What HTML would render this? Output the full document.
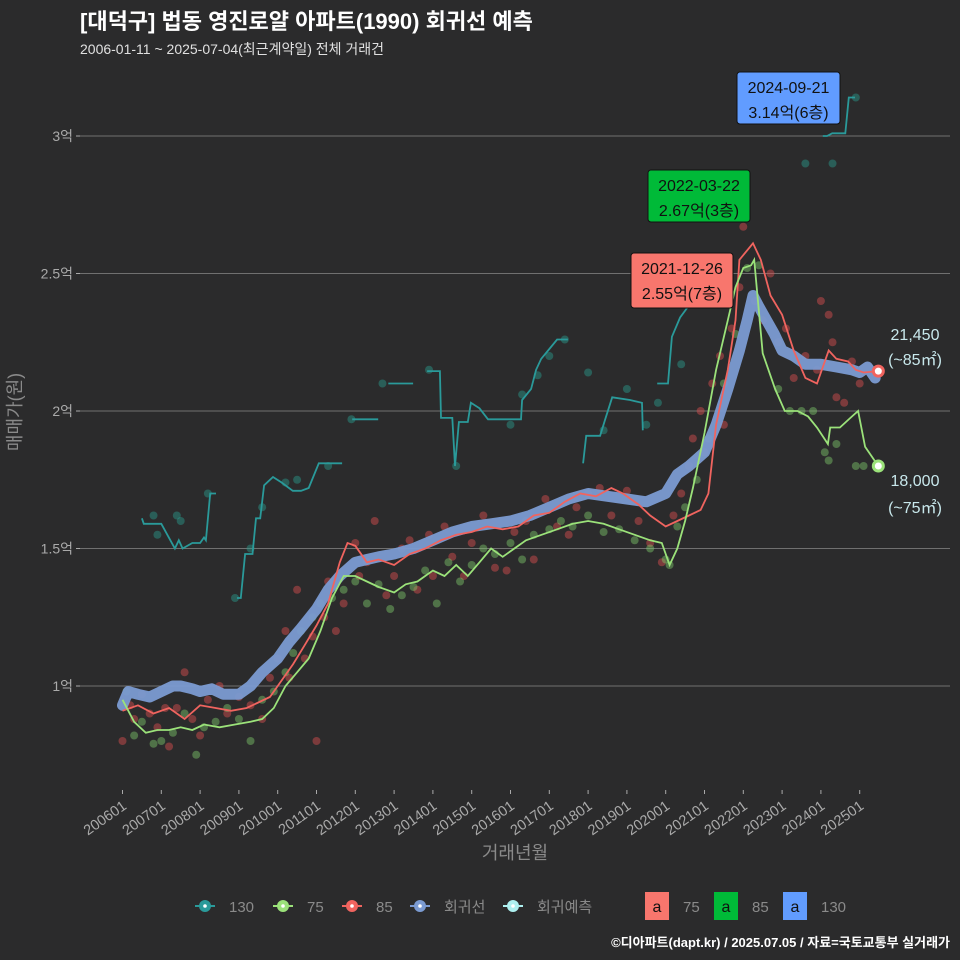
<!DOCTYPE html>
<html><head><meta charset="utf-8">
<style>
html,body{margin:0;padding:0;background:#2b2b2c;}
svg{display:block;font-family:"Liberation Sans","Noto Sans CJK KR",sans-serif;}
</style></head>
<body>
<svg id="chart" width="960" height="960" viewBox="0 0 960 960" xmlns="http://www.w3.org/2000/svg">
<rect x="0" y="0" width="960" height="960" fill="#2b2b2c"/>
<text x="80" y="29" fill="#ffffff" font-size="22" font-weight="bold">[대덕구] 법동 영진로얄 아파트(1990) 회귀선 예측</text>
<text x="80" y="54" fill="#e0e0e0" font-size="14">2006-01-11 ~ 2025-07-04(최근계약일) 전체 거래건</text>
<g id="grid"></g>
<g id="yticks"></g>
<g id="xticks"></g>
<text x="0" y="0" transform="translate(21,412) rotate(-90)" text-anchor="middle" fill="#8a8a8a" font-size="18">매매가(원)</text>
<text x="515" y="859" text-anchor="middle" fill="#8a8a8a" font-size="18">거래년월</text>
<g id="points"></g>
<g id="lines"></g>
<g id="annot"></g>
<g id="legend"></g>
<text x="950" y="947" text-anchor="end" fill="#ffffff" font-size="13" font-weight="bold">©디아파트(dapt.kr) / 2025.07.05 / 자료=국토교통부 실거래가</text>
</svg>
<script>
const yTickVals = [1, 1.5, 2, 2.5, 3];
const yTickLabels = ["1억", "1.5억", "2억", "2.5억", "3억"];
const xTickYears = [2006,2007,2008,2009,2010,2011,2012,2013,2014,2015,2016,2017,2018,2019,2020,2021,2022,2023,2024,2025];
const xTickLabels = ["200601","200701","200801","200901","201001","201101","201201","201301","201401","201501","201601","201701","201801","201901","202001","202101","202201","202301","202401","202501"];

const regT = [2006.0,2006.15,2006.4,2006.7,2007.0,2007.3,2007.5,2007.8,2008.0,2008.3,2008.6,2009.0,2009.3,2009.6,2010.0,2010.3,2010.6,2011.0,2011.3,2011.6,2012.0,2012.3,2012.6,2013.0,2013.5,2014.0,2014.5,2015.0,2015.5,2016.0,2016.5,2017.0,2017.5,2018.0,2018.5,2019.0,2019.5,2020.0,2020.3,2020.6,2021.0,2021.3,2021.6,2021.9,2022.1,2022.25,2022.4,2022.6,2022.8,2023.0,2023.3,2023.6,2024.0,2024.4,2024.8,2025.0,2025.2,2025.4];
const regV = [0.93,0.98,0.97,0.96,0.98,1.0,1.0,0.99,0.98,0.99,0.97,0.97,1.0,1.05,1.10,1.16,1.21,1.28,1.35,1.40,1.45,1.46,1.47,1.48,1.50,1.53,1.56,1.58,1.59,1.60,1.62,1.65,1.68,1.70,1.69,1.68,1.67,1.70,1.77,1.80,1.85,1.95,2.08,2.22,2.33,2.42,2.38,2.33,2.28,2.22,2.20,2.17,2.17,2.16,2.15,2.14,2.16,2.12];

const s85T = [2006.0,2006.4,2006.8,2007.2,2007.6,2008.0,2008.4,2008.8,2009.2,2009.5,2009.8,2010.1,2010.4,2010.7,2011.0,2011.3,2011.6,2011.8,2012.0,2012.3,2012.6,2013.0,2013.4,2013.8,2014.2,2014.6,2015.0,2015.4,2015.8,2016.2,2016.6,2017.0,2017.4,2017.8,2018.2,2018.6,2018.9,2019.3,2019.6,2020.0,2020.3,2020.6,2020.9,2021.1,2021.3,2021.6,2021.8,2021.9,2022.25,2022.45,2022.7,2023.0,2023.3,2023.6,2023.9,2024.2,2024.4,2024.7,2024.9,2025.1,2025.48];
const s85V = [0.91,0.93,0.90,0.92,0.88,0.93,0.92,0.91,0.92,0.94,0.96,1.02,1.08,1.15,1.22,1.30,1.45,1.52,1.51,1.45,1.46,1.44,1.48,1.50,1.53,1.55,1.56,1.58,1.57,1.58,1.62,1.63,1.67,1.70,1.69,1.72,1.70,1.66,1.62,1.58,1.60,1.62,1.64,1.70,1.95,2.15,2.33,2.55,2.61,2.55,2.42,2.35,2.22,2.12,2.10,2.22,2.19,2.18,2.15,2.14,2.145];

const s75T = [2006.0,2006.3,2006.6,2006.9,2007.2,2007.5,2007.8,2008.1,2008.5,2008.9,2009.3,2009.6,2009.9,2010.2,2010.5,2010.8,2011.1,2011.4,2011.7,2012.0,2012.3,2012.6,2013.0,2013.3,2013.6,2014.0,2014.3,2014.6,2014.9,2015.2,2015.5,2015.8,2016.1,2016.4,2016.8,2017.2,2017.6,2018.0,2018.4,2018.8,2019.2,2019.6,2019.9,2020.1,2020.3,2020.5,2020.7,2021.0,2021.3,2021.6,2021.8,2022.0,2022.2,2022.28,2022.5,2022.82,2023.07,2023.4,2023.67,2023.9,2024.18,2024.24,2024.49,2024.8,2024.96,2025.14,2025.48];
const s75V = [0.95,0.87,0.83,0.84,0.84,0.85,0.84,0.86,0.85,0.86,0.87,0.88,0.92,1.00,1.05,1.10,1.20,1.32,1.40,1.40,1.38,1.36,1.34,1.37,1.38,1.42,1.40,1.44,1.40,1.45,1.50,1.47,1.50,1.53,1.55,1.57,1.59,1.60,1.59,1.57,1.55,1.53,1.52,1.44,1.50,1.60,1.72,1.92,2.15,2.33,2.45,2.52,2.53,2.55,2.21,2.08,2.00,2.00,1.98,1.94,1.88,1.94,1.94,1.98,2.00,1.87,1.80];

const seg130T = [
 [2006.5,2006.55,2007.0,2007.35,2007.45,2007.55,2007.8,2008.0,2008.1,2008.15,2008.26,2008.41],
 [2008.95,2009.05,2009.16,2009.35,2009.44,2009.55,2009.65,2009.88,2010.1,2010.39,2010.6,2010.8,2011.06,2011.66],
 [2011.92,2012.59],
 [2012.85,2013.49],
 [2013.85,2014.18,2014.21,2014.5,2014.57,2014.67,2014.9,2014.98,2015.2,2015.42,2015.6,2015.9,2016.27,2016.30,2016.53,2016.66,2016.79,2016.97,2017.20,2017.48],
 [2017.87,2017.95,2018.31,2018.44,2018.62,2019.08,2019.39,2019.41],
 [2019.78,2020.06,2020.16,2020.37,2020.58,2020.68,2020.89],
 [2024.05,2024.16,2024.29,2024.63,2024.72,2024.88]
];
const seg130V = [
 [1.61,1.59,1.59,1.50,1.53,1.50,1.52,1.52,1.54,1.53,1.70,1.70],
 [1.32,1.32,1.48,1.48,1.61,1.61,1.73,1.76,1.74,1.71,1.71,1.72,1.81,1.81],
 [1.97,1.97],
 [2.10,2.10],
 [2.145,2.145,1.975,1.975,1.80,1.96,1.96,2.03,2.01,1.97,1.97,1.97,1.97,2.04,2.08,2.15,2.19,2.22,2.26,2.26],
 [1.81,1.91,1.91,1.97,2.05,2.04,2.03,1.93],
 [2.10,2.10,2.27,2.34,2.38,2.43,2.57],
 [3.0,3.0,3.01,3.01,3.14,3.14]
];

const p85T = [2006.0,2006.2,2006.3,2006.5,2006.7,2006.9,2007.1,2007.2,2007.4,2007.6,2007.8,2008.0,2008.2,2008.5,2008.7,2009.0,2009.3,2009.6,2009.8,2010.0,2010.2,2010.3,2010.5,2010.7,2010.9,2011.0,2011.2,2011.3,2011.5,2011.7,2012.0,2012.1,2012.3,2012.5,2012.8,2013.0,2013.2,2013.4,2013.6,2013.9,2014.0,2014.3,2014.5,2014.8,2015.0,2015.3,2015.6,2015.9,2016.1,2016.4,2016.6,2016.9,2017.2,2017.5,2017.7,2018.0,2018.3,2018.6,2019.0,2019.3,2019.6,2019.9,2020.2,2020.4,2020.6,2020.7,2020.9,2021.0,2021.2,2021.4,2021.5,2021.7,2021.9,2022.0,2022.3,2022.5,2022.7,2022.9,2023.1,2023.3,2023.6,2023.9,2024.0,2024.2,2024.3,2024.4,2024.6,2024.8,2025.0];
const p85V = [0.80,0.93,0.88,0.97,0.90,0.85,0.92,0.78,0.92,1.05,0.88,0.82,0.95,1.0,0.90,0.96,0.93,0.88,1.03,1.10,1.20,1.03,1.35,1.10,1.18,0.80,1.25,1.38,1.20,1.30,1.52,1.40,1.45,1.60,1.33,1.40,1.50,1.53,1.35,1.55,1.40,1.58,1.47,1.40,1.52,1.62,1.43,1.42,1.56,1.60,1.46,1.68,1.58,1.55,1.65,1.70,1.72,1.62,1.71,1.60,1.52,1.45,1.62,1.70,1.80,1.90,2.00,1.85,2.10,2.20,1.95,2.30,2.45,2.67,2.40,2.33,2.50,2.25,2.30,2.12,2.20,2.15,2.40,2.35,2.25,2.05,2.03,2.18,2.10];

const p75T = [2006.1,2006.3,2006.5,2006.8,2007.0,2007.3,2007.6,2007.9,2008.1,2008.4,2008.7,2009.0,2009.3,2009.6,2009.9,2010.2,2010.4,2010.6,2010.9,2011.1,2011.4,2011.7,2012.0,2012.3,2012.6,2012.9,2013.2,2013.5,2013.8,2014.1,2014.4,2014.7,2015.0,2015.3,2015.6,2016.0,2016.3,2016.6,2017.0,2017.3,2017.6,2018.0,2018.4,2018.8,2019.2,2019.6,2020.0,2020.1,2020.3,2020.5,2020.8,2021.1,2021.5,2021.8,2022.1,2022.4,2022.9,2023.2,2023.5,2023.8,2024.1,2024.2,2024.4,2024.9,2025.1];
const p75V = [0.98,0.82,0.87,0.79,0.80,0.83,0.90,0.75,0.85,0.87,0.92,0.88,0.80,0.95,0.98,1.05,1.12,1.20,1.25,1.30,1.32,1.35,1.38,1.30,1.37,1.28,1.33,1.36,1.42,1.30,1.45,1.38,1.44,1.50,1.48,1.52,1.46,1.55,1.57,1.60,1.58,1.62,1.56,1.57,1.53,1.50,1.46,1.44,1.58,1.65,1.75,1.90,2.10,2.28,2.52,2.53,2.08,2.00,2.00,2.00,1.85,1.82,1.88,1.80,1.80];

const p130T = [2006.8,2006.9,2007.4,2007.5,2008.2,2008.9,2009.3,2009.6,2010.2,2010.5,2011.3,2011.9,2012.7,2013.9,2014.6,2016.0,2016.3,2016.7,2017.0,2017.4,2018.0,2018.4,2019.0,2019.5,2019.8,2020.4,2020.7,2023.6,2024.0,2024.3,2024.9];
const p130V = [1.62,1.55,1.62,1.60,1.70,1.32,1.50,1.65,1.74,1.75,1.80,1.97,2.10,2.15,1.80,1.95,2.06,2.13,2.20,2.26,2.14,1.93,2.08,1.95,2.03,2.17,2.55,2.90,3.14,2.90,3.14];

const NS = "http://www.w3.org/2000/svg";
function xS(t){ return 122.5 + (t - 2006) * 38.8; }
function yS(v){ return 686 - (v - 1) * 275; }
function mk(tag, attrs, parent){ const e = document.createElementNS(NS, tag); for (const k in attrs) e.setAttribute(k, attrs[k]); parent.appendChild(e); return e; }

const grid = document.getElementById('grid');
const yt = document.getElementById('yticks');
yTickVals.forEach((v, i) => {
  const ln = mk('line', {x1:80, x2:950, y1:yS(v), y2:yS(v), stroke:'#707070', 'stroke-width':1}, grid);
  
  
  const tk = mk('line', {x1:76, x2:80, y1:yS(v), y2:yS(v), stroke:'#aaaaaa'}, yt);
  
  
  const tx = mk('text', {x:73, y:yS(v)+5, 'text-anchor':'end', fill:'#aaaaaa', 'font-size':14}, yt);
  tx.textContent = yTickLabels[i];
  
  
});
const xt = document.getElementById('xticks');
xTickYears.forEach((yr, i) => {
  const x = xS(yr);
  const tk = mk('line', {x1:x, x2:x, y1:790, y2:794, stroke:'#aaaaaa'}, xt);
  
  
  const tx = mk('text', {x:0, y:0, transform:`translate(${x+5},${808}) rotate(-35)`, 'text-anchor':'end', fill:'#aaaaaa', 'font-size':14.5}, xt);
  tx.textContent = xTickLabels[i];
  
  
});

const pts = document.getElementById('points');
function drawPts(T, V, col, name){
  T.forEach((t, i) => {
    const c = mk('circle', {cx:xS(t), cy:yS(V[i]), r:4, fill:col, 'fill-opacity':0.45}, pts);
    
    
  });
}
drawPts(p130T, p130V, '#2a9d8f', 'point-130');
drawPts(p85T, p85V, '#e0504f', 'point-85');
drawPts(p75T, p75V, '#7fc96b', 'point-75');

const lines = document.getElementById('lines');
function pathD(T, V){ return T.map((t, i) => (i ? 'L' : 'M') + xS(t).toFixed(1) + ',' + yS(V[i]).toFixed(1)).join(' '); }
seg130T.forEach((T, k) => {
  const p = mk('path', {d:pathD(T, seg130V[k]), fill:'none', stroke:'#2a9a9a', 'stroke-width':1.8}, lines);
  
  
});
const reg = mk('path', {d:pathD(regT, regV), fill:'none', stroke:'#7b9bd2', 'stroke-width':11, 'stroke-linejoin':'round', 'stroke-linecap':'round', 'stroke-opacity':0.95}, lines);


const l85 = mk('path', {d:pathD(s85T, s85V), fill:'none', stroke:'#f0645f', 'stroke-width':1.8}, lines);


const l75 = mk('path', {d:pathD(s75T, s75V), fill:'none', stroke:'#9be27a', 'stroke-width':1.8}, lines);



const e85 = mk('circle', {cx:xS(s85T[s85T.length-1]), cy:yS(s85V[s85V.length-1]), r:5, fill:'#ffffff', stroke:'#f0645f', 'stroke-width':3}, lines);


const e75 = mk('circle', {cx:xS(s75T[s75T.length-1]), cy:yS(s75V[s75V.length-1]), r:5, fill:'#ffffff', stroke:'#9be27a', 'stroke-width':3}, lines);



const an = document.getElementById('annot');
function box(x, y, w, h, col, l1, l2, name){
  const g = mk('g', {}, an);
  
  
  mk('rect', {x:x, y:y, width:w, height:h, rx:3, fill:col, stroke:'#111', 'stroke-width':1}, g);
  const a = mk('text', {x:x+w/2, y:y+21, 'text-anchor':'middle', fill:'#111', 'font-size':16}, g); a.textContent = l1;
  const b = mk('text', {x:x+w/2, y:y+46, 'text-anchor':'middle', fill:'#111', 'font-size':16}, g); b.textContent = l2;
}
box(631, 253, 102, 55, '#f8766d', '2021-12-26', '2.55억(7층)', 'annotation-max-75');
box(648, 170, 102, 52, '#00ba38', '2022-03-22', '2.67억(3층)', 'annotation-max-85');
box(737, 72, 103, 52, '#619cff', '2024-09-21', '3.14억(6층)', 'annotation-max-130');
[['21,450',915,340],['(~85㎡)',915,365],['18,000',915,486],['(~75㎡)',915,513]].forEach(d => {
  const t = mk('text', {x:d[1], y:d[2], 'text-anchor':'middle', fill:'#c8e8ec', 'font-size':16}, an);
  t.textContent = d[0];
  
  
});

const lg = document.getElementById('legend');
[['130','#2a9a9a',205],['75','#9be27a',283],['85','#f0645f',352],['회귀선','#7b9bd2',420],['회귀예측','#aef0f0',513]].forEach(d => {
  const g = mk('g', {}, lg);
  
  
  mk('line', {x1:d[2]-10, x2:d[2]+10, y1:906, y2:906, stroke:d[1], 'stroke-width':2}, g);
  mk('circle', {cx:d[2], cy:906, r:6, fill:d[1]}, g);
  mk('circle', {cx:d[2], cy:906, r:1.8, fill:'#ffffff'}, g);
  const t = mk('text', {x:d[2]+24, y:912, fill:'#8a8a8a', 'font-size':15}, g); t.textContent = d[0];
});
[['75','#f8766d',645],['85','#00ba38',714],['130','#619cff',783]].forEach(d => {
  const g = mk('g', {}, lg);
  
  
  mk('rect', {x:d[2], y:892, width:24, height:28, fill:d[1]}, g);
  const a = mk('text', {x:d[2]+12, y:912, 'text-anchor':'middle', fill:'#111', 'font-size':16}, g); a.textContent = 'a';
  const t = mk('text', {x:d[2]+38, y:912, fill:'#8a8a8a', 'font-size':15}, g); t.textContent = d[0];
});
</script>
</body></html>
